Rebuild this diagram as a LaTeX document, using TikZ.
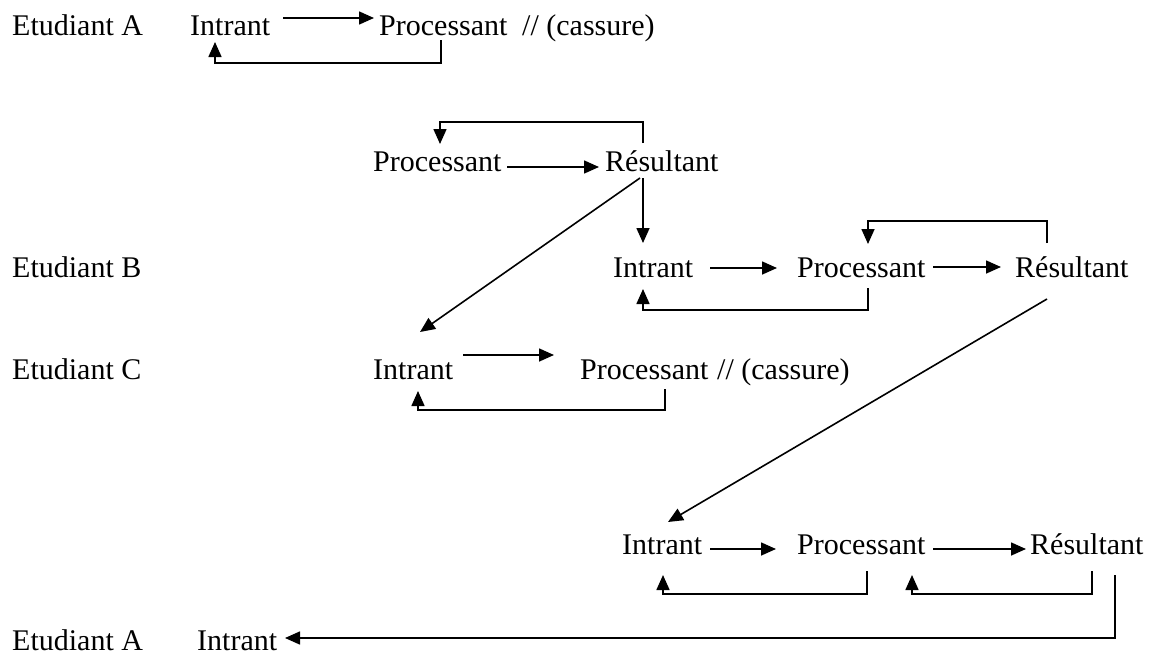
\documentclass[tikz,border=0pt]{standalone}
\usepackage{fontspec}
\setmainfont{Liberation Serif}
\usetikzlibrary{arrows.meta}
\tikzset{
  lbl/.style={anchor=base west, inner sep=0pt, font=\fontsize{30}{36}\selectfont},
  arr/.style={draw=black, line width=1.6pt, -{Triangle[length=15pt,width=13pt]}},
}
\begin{document}
\begin{tikzpicture}[x=1pt,y=-1pt]
\useasboundingbox (0,0) rectangle (1149,656);
% Row A
\node[lbl] (eA) at (12,35) {Etudiant A};
\node[lbl] (iA) at (190,35) {Intrant};
\node[lbl] (pA) at (379,35) {Processant};
\node[lbl] (cA) at (522,35) {// (cassure)};
\draw[arr] ([shift={(93,-17)}]iA.base west) -- ([shift={(-5,-17)}]pA.base west);
\draw[arr] ([shift={(62,5)}]pA.base west) -- ++(0,23) -| ([shift={(25,7)}]iA.base west);
% Row 2
\node[lbl] (p2) at (373,171) {Processant};
\node[lbl] (r2) at (605,171) {Résultant};
\draw[arr] ([shift={(134,-4)}]p2.base west) -- ([shift={(-6,-4)}]r2.base west);
\draw[arr] ([shift={(38,-28)}]r2.base west) -- ++(0,-21) -| ([shift={(67,-27)}]p2.base west);
% Row B
\node[lbl] (eB) at (12,277) {Etudiant B};
\node[lbl] (iB) at (613,277) {Intrant};
\node[lbl] (pB) at (797,277) {Processant};
\node[lbl] (rB) at (1015,277) {Résultant};
\draw[arr] ([shift={(38,7)}]r2.base west) -- ([shift={(30,-34)}]iB.base west);
\draw[arr] ([shift={(97,-9)}]iB.base west) -- ([shift={(-20,-9)}]pB.base west);
\draw[arr] ([shift={(136,-10)}]pB.base west) -- ([shift={(-14,-10)}]rB.base west);
\draw[arr] ([shift={(32,-34)}]rB.base west) -- ++(0,-22) -| ([shift={(71,-33)}]pB.base west);
\draw[arr] ([shift={(71,11)}]pB.base west) -- ++(0,22) -| ([shift={(30,12)}]iB.base west);
% Row C
\node[lbl] (eC) at (12,379) {Etudiant C};
\node[lbl] (iC) at (373,379) {Intrant};
\node[lbl] (pC) at (580,379) {Processant};
\node[lbl] (cC) at (717,379) {// (cassure)};
\draw[arr] ([shift={(35,7)}]r2.base west) -- ([shift={(47,-47)}]iC.base west);
\draw[arr] ([shift={(90,-24)}]iC.base west) -- ([shift={(-26,-24)}]pC.base west);
\draw[arr] ([shift={(85,10)}]pC.base west) -- ++(0,21) -| ([shift={(45,12)}]iC.base west);
% Row D
\node[lbl] (iD) at (622,554) {Intrant};
\node[lbl] (pD) at (797,554) {Processant};
\node[lbl] (rD) at (1030,554) {Résultant};
\draw[arr] ([shift={(32,22)}]rB.base west) -- ([shift={(46,-32)}]iD.base west);
\draw[arr] ([shift={(88,-5)}]iD.base west) -- ([shift={(-21,-5)}]pD.base west);
\draw[arr] ([shift={(136,-5)}]pD.base west) -- ([shift={(-4,-5)}]rD.base west);
\draw[arr] ([shift={(70,17)}]pD.base west) -- ++(0,23) -| ([shift={(41,21)}]iD.base west);
\draw[arr] ([shift={(62,17)}]rD.base west) -- ++(0,23) -| ([shift={(115,21)}]pD.base west);
% Bottom row
\node[lbl] (eA2) at (12,650) {Etudiant A};
\node[lbl] (iA2) at (197,650) {Intrant};
\draw[arr] ([shift={(85,21)}]rD.base west) |- ([shift={(88,-12)}]iA2.base west);
\end{tikzpicture}
\end{document}
